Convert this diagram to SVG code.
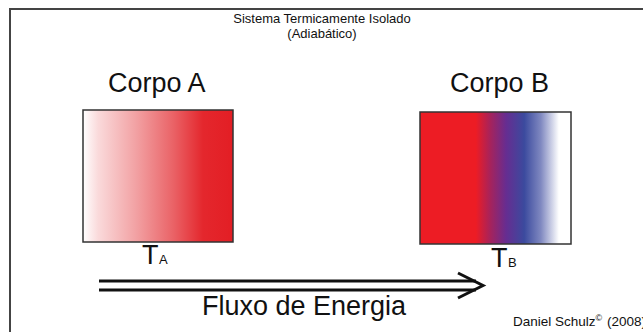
<svg xmlns="http://www.w3.org/2000/svg" width="643" height="332" viewBox="0 0 643 332">
<style>
text{font-family:"Liberation Sans",Arial,sans-serif;fill:#111}
.big{font-size:27px}
.sm{font-size:13px}
.box{stroke:#333;stroke-width:1.5}
.ln{stroke:#111;stroke-width:3;fill:none}
</style>
<defs>
<linearGradient id="gA" x1="0" y1="0" x2="1" y2="0">
<stop offset="0" stop-color="#ffffff"/>
<stop offset="0.1" stop-color="#fadadb"/>
<stop offset="0.35" stop-color="#f2a2a4"/>
<stop offset="0.6" stop-color="#ea6367"/>
<stop offset="0.8" stop-color="#e4272d"/>
<stop offset="1" stop-color="#e31e24"/>
</linearGradient>
<linearGradient id="gB" x1="0" y1="0" x2="1" y2="0">
<stop offset="0" stop-color="#ed1c24"/>
<stop offset="0.37" stop-color="#ed1c24"/>
<stop offset="0.47" stop-color="#a3235e"/>
<stop offset="0.57" stop-color="#662d91"/>
<stop offset="0.69" stop-color="#3b4a9e"/>
<stop offset="0.8" stop-color="#7f88c0"/>
<stop offset="0.92" stop-color="#ffffff"/>
<stop offset="1" stop-color="#ffffff"/>
</linearGradient>
</defs>
<rect width="643" height="332" fill="#fff"/>
<rect id="frame" x="10" y="9" width="660" height="340" fill="none" stroke="#444" stroke-width="2"/>
<g id="title">
<text class="sm" x="322" y="23" text-anchor="middle">Sistema Termicamente Isolado</text>
<text class="sm" x="322" y="38" text-anchor="middle">(Adiabático)</text>
</g>
<g id="corpoA">
<text class="big" x="108" y="92">Corpo A</text>
<rect class="box" x="83" y="110" width="150" height="132" fill="url(#gA)"/>
<text class="big" x="142" y="264">T</text>
<text class="sm" x="159" y="264">A</text>
</g>
<g id="corpoB">
<text class="big" x="450" y="92">Corpo B</text>
<rect class="box" x="420" y="112" width="151" height="132" fill="url(#gB)"/>
<text class="big" x="491" y="267">T</text>
<text class="sm" x="508" y="267">B</text>
</g>
<g id="connectors">
<line class="ln" x1="99" y1="281" x2="476" y2="281"/>
<line class="ln" x1="99" y1="290" x2="476" y2="290"/>
<polyline class="ln" points="458,273 483,285.5 458,298" stroke-width="3.5" stroke-linejoin="miter"/>
</g>
<text id="fluxo" class="big" x="202" y="315">Fluxo de Energia</text>
<text id="credit" x="513" y="326" font-size="13.5">Daniel Schulz<tspan font-size="9" dy="-5">©</tspan><tspan x="607" dy="5">(2008)</tspan></text>
</svg>
